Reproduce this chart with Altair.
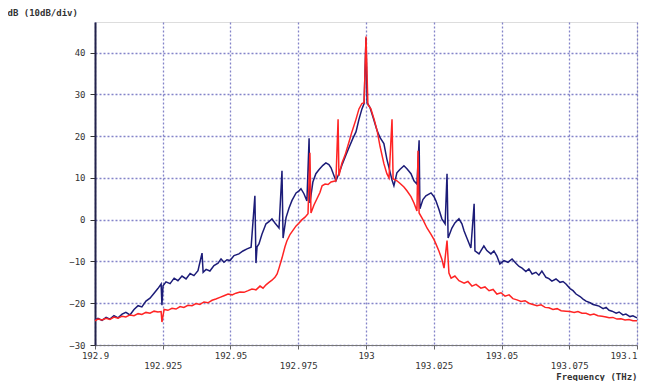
import altair as alt
import pandas as pd

# Frequency offsets from 193 THz in GHz, and power in dB
blue_off = [-100.0, -98.9, -97.4, -95.9, -94.5, -93.0, -91.5, -90.0, -88.6, -87.1, -85.6, -84.1, -82.7,
            -81.2, -79.7, -78.2, -76.8, -75.6, -75.3, -74.9, -73.8, -72.3, -70.8, -69.4, -67.9, -66.4,
            -64.9, -63.5, -62.0, -60.5, -60.1, -59.0, -57.6, -56.1, -54.6, -53.5, -52.4, -51.3, -50.2,
            -48.7, -46.9, -45.4, -43.9, -42.4, -41.0, -40.6, -40.2, -39.5, -38.4, -36.9, -35.8, -34.7,
            -33.6, -32.1, -31.0, -30.6, -29.5, -28.4, -27.3, -25.8, -24.7, -24.0, -22.9, -21.8, -21.0,
            -20.7, -19.6, -18.5, -17.3, -15.9, -14.8, -13.7, -12.9, -11.8, -11.1, -10.0, -8.9, -7.4,
            -6.3, -4.8, -3.7, -2.6, -1.5, -0.7, 0.0, 0.4, 1.5, 2.6, 4.1, 5.2, 6.6, 7.7, 8.5, 9.6, 10.3,
            11.4, 12.5, 14.0, 15.1, 16.6, 17.7, 18.8, 19.6, 19.9, 21.0, 22.1, 24.0, 25.1, 25.8, 26.9,
            28.0, 29.2, 29.9, 30.3, 31.7, 32.8, 34.3, 35.4, 36.2, 37.3, 38.7, 39.9, 40.2, 41.7, 43.5,
            44.6, 46.1, 47.2, 48.3, 49.4, 50.9, 52.4, 53.9, 55.4, 56.5, 57.6, 59.0, 60.1, 61.3, 62.7,
            63.8, 64.9, 66.4, 67.5, 68.6, 70.1, 71.6, 72.7, 73.8, 75.3, 76.4, 77.5, 79.0, 80.1, 81.2,
            82.7, 83.8, 84.9, 86.0, 87.5, 88.6, 89.7, 90.8, 92.3, 93.4, 94.8, 95.9, 97.4, 98.5, 100.0]
blue_db = [-24.0, -23.6, -24.1, -23.4, -23.8, -23.0, -23.5, -22.6, -22.2, -22.8, -21.5, -20.6, -20.9,
           -19.5, -18.8, -17.6, -16.5, -15.4, -20.5, -15.8, -14.9, -15.3, -14.0, -14.6, -13.5, -14.2,
           -12.9, -13.4, -12.2, -8.0, -12.6, -11.9, -12.3, -11.0, -10.4, -9.4, -10.2, -9.6, -9.8,
           -8.6, -8.2, -7.5, -7.0, -6.6, 5.7, -10.4, -6.5, -5.8, -3.5, -1.0, -0.5, 0.2,
           -0.8, -2.0, 11.7, -4.4, 0.5, 2.8, 4.6, 6.4, 6.9, 7.4, 6.2, 4.5, 19.5,
           4.0, 9.0, 11.0, 12.0, 13.0, 13.6, 13.2, 12.4, 10.5, 9.3, 11.0, 13.0, 15.5,
           17.2, 19.5, 21.0, 24.0, 26.5, 27.8, 43.5, 28.0, 26.8, 24.5, 21.3, 19.6, 18.2, 14.5, 12.4, 9.5, 8.1,
           11.2, 12.0, 12.9, 12.2, 11.0, 9.3, 8.5, 19.0, 2.6, 4.8, 5.7, 6.4, 5.5, 4.5, 2.5,
           0.2, -1.0, 11.0, -4.4, -2.0, -0.8, 0.2, -1.0, -2.7, -4.5, -6.8, 3.8, -7.5, -8.2, -6.3,
           -7.4, -8.2, -7.5, -8.7, -10.6, -9.8, -10.2, -9.4, -10.5, -11.2, -11.6, -12.4, -11.8, -13.0, -12.6,
           -13.3, -12.3, -13.8, -14.1, -14.7, -14.2, -15.0, -14.8, -15.4, -16.5, -17.0, -17.8, -18.4, -19.0, -19.5,
           -19.9, -20.3, -20.5, -20.7, -21.3, -21.0, -21.7, -21.9, -22.4, -22.1, -22.8, -22.6, -23.2, -23.0, -23.5]

red_off = [-100.0, -98.9, -97.4, -95.9, -94.5, -93.0, -91.5, -90.0, -88.6, -87.1, -85.6, -84.1, -82.7,
           -81.2, -79.7, -78.2, -76.8, -75.6, -75.3, -74.5, -73.1, -71.6, -70.1, -68.6, -67.2, -65.7,
           -64.2, -62.7, -61.3, -59.8, -58.3, -56.8, -55.4, -53.9, -52.4, -50.9, -49.4, -48.0, -46.5,
           -45.0, -43.5, -42.1, -40.6, -39.1, -38.0, -36.9, -35.8, -34.7, -33.6, -32.8, -32.1, -31.0,
           -29.9, -29.2, -28.0, -26.9, -25.8, -24.7, -23.6, -22.5, -21.4, -20.7, -20.3, -19.2, -18.1,
           -17.0, -16.2, -15.1, -14.0, -12.9, -11.8, -11.1, -10.3, -10.0, -8.9, -7.7, -6.3, -5.2,
           -3.7, -2.6, -1.5, -0.7, 0.0, 0.7, 1.8, 3.0, 4.1, 5.2, 6.6, 7.7, 8.5, 9.6, 10.0,
           11.4, 12.5, 14.0, 15.1, 16.6, 17.7, 18.8, 19.2, 19.6, 21.0, 22.5, 24.0, 25.1, 25.8, 26.9,
           28.0, 28.8, 29.9, 30.6, 31.4, 32.8, 34.3, 36.2, 37.6, 39.1, 40.6, 42.4, 43.9, 45.4, 46.9,
           48.3, 49.8, 51.3, 52.8, 54.2, 55.7, 57.2, 58.7, 60.1, 61.6, 63.1, 64.6, 66.1, 67.5, 69.0,
           70.5, 72.0, 73.8, 75.3, 76.8, 78.2, 79.7, 81.2, 82.7, 84.1, 85.6, 87.1, 88.6, 89.7, 91.1,
           92.6, 94.1, 95.6, 97.0, 98.5, 100.0]
red_db = [-24.2, -23.8, -24.0, -23.6, -23.9, -23.3, -23.6, -23.1, -23.3, -22.8, -23.0, -22.5, -22.7,
          -22.2, -22.4, -21.9, -22.1, -22.0, -24.5, -21.5, -21.7, -21.2, -21.4, -20.8, -21.0, -20.5,
          -20.6, -20.1, -20.3, -19.7, -19.9, -19.3, -19.0, -18.6, -18.2, -17.8, -18.0, -17.6, -17.3,
          -17.4, -17.0, -16.6, -16.8, -15.9, -16.4, -15.6, -15.0, -14.5, -13.8, -13.0, -11.6, -9.2,
          -6.5, -5.1, -3.5, -2.5, -1.5, -0.8, 0.0, 0.6, 1.4, 16.0, 1.6, 3.5, 5.0,
          6.5, 8.1, 8.5, 8.4, 9.0, 9.2, 9.3, 24.0, 10.5, 13.5, 15.5, 18.5, 21.0,
          24.0, 26.5, 27.8, 28.0, 43.8, 27.5, 26.5, 24.0, 21.3, 17.5, 13.4, 11.0, 10.0, 24.0, 9.8,
          9.3, 8.7, 7.8, 6.9, 5.5, 4.0, 2.1, 16.5, 1.6, 0.0, -2.0, -3.5, -4.8, -5.8, -7.5,
          -9.5, -11.6, -5.0, -12.8, -14.0, -13.5, -14.6, -15.2, -14.8, -15.9, -15.5, -16.4, -16.1, -17.0, -16.7,
          -17.8, -17.5, -18.3, -18.0, -18.9, -19.2, -19.6, -19.4, -20.0, -20.3, -20.6, -20.4, -21.0, -21.1, -21.5,
          -21.3, -21.8, -21.9, -22.0, -22.2, -22.0, -22.4, -22.4, -22.8, -22.6, -23.0, -23.1, -23.3, -23.5, -23.4,
          -23.8, -23.7, -24.0, -23.9, -24.2, -24.2]

x_ticks = [192.9, 192.925, 192.95, 192.975, 193.0, 193.025, 193.05, 193.075, 193.1]
y_ticks = [-30, -20, -10, 0, 10, 20, 30, 40]

blue = pd.DataFrame({"f": [193 + o / 1000 for o in blue_off], "db": blue_db})
red = pd.DataFrame({"f": [193 + o / 1000 for o in red_off], "db": red_db})

font = "DejaVu Sans Mono"
xscale = alt.Scale(domain=[192.9, 193.1], nice=False, zero=False)
yscale = alt.Scale(domain=[-30, 47.3], nice=False, zero=False)

xaxis = alt.Axis(
    values=x_ticks,
    labelExpr="(round(datum.value*1000) % 50 == 25) ? ['', format(datum.value, '.3~f')] : format(datum.value, '.3~f')",
    labelAlign={"condition": {"test": "datum.value > 193.09", "value": "right"}, "value": "center"},
    labelLineHeight=10, labelPadding=2, tickSize=4, labelFont=font, labelFontSize=9,
    labelColor="#333", tickColor="#666", domainColor="#777",
    gridColor="#6f6fc0", gridDash=[2, 2], gridWidth=1.3, gridOpacity=0.85,
    title="Frequency (THz)", titleFont=font, titleFontSize=9, titleFontWeight="bold",
    titleColor="#333", titleAlign="right", titleAnchor="start", titleX=542, titleY=31,
    titleBaseline="middle", labelFlush=False, labelOverlap=False,
)
yaxis = alt.Axis(
    values=y_ticks, tickSize=5, labelPadding=5, labelFont=font, labelFontSize=9,
    labelColor="#333", tickColor="#333", domainColor="#22224a", domainWidth=2,
    gridColor="#6f6fc0", gridDash=[2, 2], gridWidth=1.3, gridOpacity=0.85,
    title="dB (10dB/div)", titleFont=font, titleFontSize=9, titleFontWeight="bold",
    titleColor="#333", titleAngle=0, titleAlign="left", titleBaseline="middle",
    titleX=-88, titleY=-10, labelOverlap=False,
)

blue_line = alt.Chart(blue).mark_line(color="#1c1c78", strokeWidth=1.5).encode(
    x=alt.X("f:Q", scale=xscale, axis=xaxis),
    y=alt.Y("db:Q", scale=yscale, axis=yaxis),
)
red_line = alt.Chart(red).mark_line(color="#ff2424", strokeWidth=1.5).encode(
    x=alt.X("f:Q", scale=xscale),
    y=alt.Y("db:Q", scale=yscale),
)

chart = alt.layer(blue_line, red_line).properties(
    width=542, height=323,
    padding={"left": 87, "top": 14, "right": 3, "bottom": 36},
    autosize=alt.AutoSizeParams(type="none"),
).configure_view(stroke="#555", strokeWidth=1).configure(background="white")

chart.save("out.html", embed_options={"renderer": "svg", "actions": False})
